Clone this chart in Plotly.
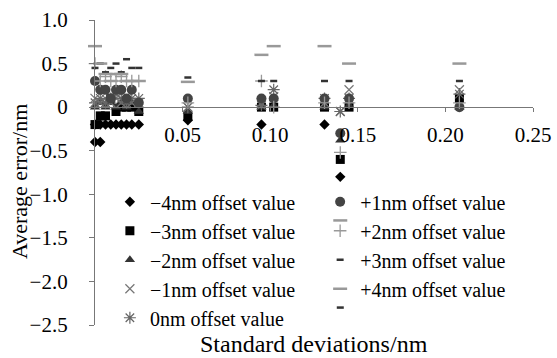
import plotly.graph_objects as go

# ---- data ----
cluster_x = [0.000, 0.003, 0.006, 0.009, 0.012, 0.015, 0.018, 0.021, 0.025]
far_x = [0.053, 0.095, 0.102, 0.131, 0.140, 0.145, 0.208]
all_x = cluster_x + far_x

m4_x = [0.000, 0.003, 0.000, 0.003, 0.006, 0.009, 0.012, 0.015, 0.018, 0.021, 0.025, 0.053, 0.095, 0.131, 0.140]
m4_y = [-0.40, -0.40, -0.20, -0.20, -0.20, -0.20, -0.20, -0.20, -0.20, -0.20, -0.20, -0.15, -0.20, -0.20, -0.80]

m3_y = [-0.20, -0.10, -0.10, 0.10, -0.05, 0.00, 0.00, 0.00, -0.05, -0.10, 0.00, 0.00, 0.00, -0.60, 0.00, 0.10]
m2_y = [0.00, 0.05, 0.00, 0.05, 0.00, 0.05, 0.00, 0.05, -0.05, -0.05, 0.00, 0.02, 0.00, -0.38, 0.02, 0.00]
m1_y = [0.10, 0.05, 0.10, 0.05, 0.10, 0.05, 0.10, 0.05, 0.05, 0.00, 0.05, 0.12, 0.05, -0.05, 0.20, 0.20]
z0_y = [0.05, 0.10, 0.05, 0.10, 0.15, 0.10, 0.05, 0.10, 0.10, 0.00, 0.02, 0.20, 0.10, -0.05, 0.10, 0.15]
p1_y = [0.30, 0.20, 0.20, 0.10, 0.20, 0.20, 0.10, 0.20, 0.05, 0.10, 0.10, 0.10, 0.10, -0.30, 0.10, 0.00]
p2_y = [0.50, 0.30, 0.35, 0.30, 0.30, 0.35, 0.30, 0.30, 0.30, 0.05, 0.30, 0.00, 0.05, -0.52, 0.05, 0.05]
p3_y = [0.45, 0.50, 0.40, 0.45, 0.50, 0.40, 0.55, 0.45, 0.45, 0.34, 0.30, 0.30, 0.30, -2.30, 0.30, 0.30]
p4_y = [0.70, 0.50, 0.38, 0.30, 0.38, 0.38, 0.30, 0.30, 0.30, 0.29, 0.60, 0.70, 0.70, -1.30, 0.50, 0.50]

y_tickvals = [1.0, 0.5, 0, -0.5, -1.0, -1.5, -2.0, -2.5]
y_ticktext = ["1.0", "0.5", "0", "\u22120.5", "\u22121.0", "\u22121.5", "\u22122.0", "\u22122.5"]
x_tickvals = [0.05, 0.10, 0.15, 0.20, 0.25]
x_ticktext = ["0.05", "0.10", "0.15", "0.20", "0.25"]

FONT = "Times New Roman, Liberation Serif, serif"
FS = 21
LFS = 20

def mk(name, x, y, symbol, color, size, legend, lw=0, lcolor=None):
    marker = dict(symbol=symbol, color=color, size=size)
    if lw:
        marker["line"] = dict(width=lw, color=lcolor or color)
    return go.Scatter(x=x, y=y, mode="markers", name=name, marker=marker,
                      cliponaxis=False, legend=legend, legendgroup=name)

fig = go.Figure()
fig.add_trace(mk("\u22124nm offset value", m4_x, m4_y, "diamond", "#000000", 8, "legend"))
fig.add_trace(mk("\u22123nm offset value", all_x, m3_y, "square", "#000000", 9, "legend"))
fig.add_trace(mk("\u22122nm offset value", all_x, m2_y, "triangle-up", "#333333", 9, "legend"))
fig.add_trace(mk("\u22121nm offset value", all_x, m1_y, "x-thin-open", "#777777", 9, "legend", 1.2))
fig.add_trace(mk("0nm offset value", all_x, z0_y, "asterisk-open", "#666666", 10, "legend", 1.2))
fig.add_trace(mk("+1nm offset value", all_x, p1_y, "circle", "#444444", 10, "legend2"))
fig.add_trace(mk("+2nm offset value", all_x, p2_y, "cross-thin-open", "#999999", 9, "legend2", 1.3))
fig.add_trace(mk("+3nm offset value", all_x, p3_y, "line-ew-open", "#333333", 5, "legend2", 2.5))
fig.add_trace(mk("+4nm offset value", all_x, p4_y, "line-ew-open", "#999999", 10, "legend2", 2.5))

leg_common = dict(
    orientation="v", yanchor="top", xanchor="left",
    traceorder="grouped", tracegroupgap=0,
    font=dict(family=FONT, size=LFS, color="black"),
    bgcolor="rgba(0,0,0,0)", itemsizing="trace",
)

fig.update_layout(
    width=557, height=358,
    margin=dict(l=95, r=24, t=20, b=33, autoexpand=False),
    paper_bgcolor="white", plot_bgcolor="white",
    font=dict(family=FONT, size=FS, color="black"),
    showlegend=True,
    legend=dict(x=0.034, y=0.468, **leg_common),
    legend2=dict(x=0.514, y=0.468, **leg_common),
    xaxis=dict(
        range=[0, 0.25], anchor="free", position=2.5 / 3.5,
        tickvals=x_tickvals, ticktext=x_ticktext,
        showgrid=False, zeroline=False, showline=True, linecolor="#777777", linewidth=1.2,
        ticks="outside", ticklen=4, tickcolor="#777777", ticklabelstandoff=5,
        tickfont=dict(family=FONT, size=FS, color="black"),
    ),
    yaxis=dict(
        range=[-2.5, 1.0], tickvals=y_tickvals, ticktext=y_ticktext,
        showgrid=False, zeroline=False, showline=True, linecolor="#777777", linewidth=1.2,
        ticks="outside", ticklen=5, tickcolor="#777777", ticklabelstandoff=17,
        tickfont=dict(family=FONT, size=FS, color="black"),
    ),
    annotations=[
        dict(
            text="Standard deviations/nm", xref="paper", yref="paper", x=0.5, y=0,
            yshift=-34, showarrow=False, yanchor="bottom",
            font=dict(family=FONT, size=24, color="black"),
        ),
        dict(
            text="Average error/nm", xref="paper", yref="paper", x=0, y=(325 - 182) / 305,
            xshift=-76, showarrow=False, textangle=-90, xanchor="center", yanchor="middle",
            font=dict(family=FONT, size=22, color="black"),
        ),
    ],
)

fig.write_html("out.html")
